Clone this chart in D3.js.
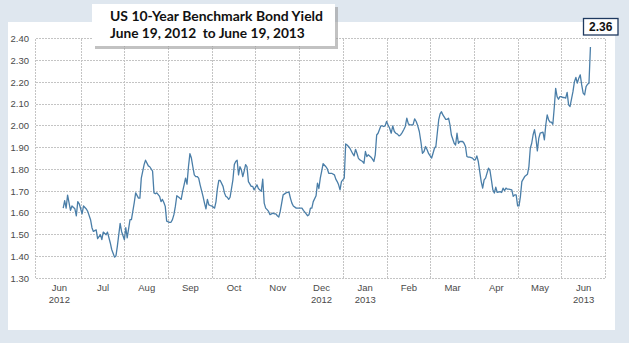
<!DOCTYPE html>
<html>
<head>
<meta charset="utf-8">
<script src="https://cdn.jsdelivr.net/npm/d3@7"></script>
<style>
  html, body { margin: 0; padding: 0; background: #dfe7ef; }
  svg { display: block; }
</style>
</head>
<body>
<svg id="chart" width="629" height="343"></svg>
<script>
// ---------- DATA ----------
const titleLines = ["US 10-Year Benchmark Bond Yield", "June 19, 2012  to June 19, 2013"];
const lastValueLabel = "2.36";
const monthLabels = ["Jun","Jul","Aug","Sep","Oct","Nov","Dec","Jan","Feb","Mar","Apr","May","Jun"];
const yearLabels  = ["2012","","","","","","2012","2013","","","","","2013"];
const yTicks = [1.30,1.40,1.50,1.60,1.70,1.80,1.90,2.00,2.10,2.20,2.30,2.40];

const obsDates = [
 "2012-06-19","2012-06-20","2012-06-21","2012-06-22","2012-06-24","2012-06-25","2012-06-27","2012-06-28","2012-06-29","2012-06-30",
 "2012-07-02","2012-07-03","2012-07-05","2012-07-06","2012-07-08","2012-07-09","2012-07-10","2012-07-12","2012-07-13","2012-07-15","2012-07-16","2012-07-17","2012-07-19","2012-07-20","2012-07-22","2012-07-23","2012-07-25","2012-07-26","2012-07-27","2012-07-29","2012-07-30",
 "2012-08-01","2012-08-02","2012-08-03","2012-08-05","2012-08-06","2012-08-08","2012-08-09","2012-08-11","2012-08-12","2012-08-13","2012-08-15","2012-08-16","2012-08-18","2012-08-19","2012-08-21","2012-08-22","2012-08-23","2012-08-24","2012-08-26","2012-08-27","2012-08-28","2012-08-29","2012-08-30","2012-08-31",
 "2012-09-02","2012-09-03","2012-09-04","2012-09-05","2012-09-06","2012-09-07","2012-09-09","2012-09-10","2012-09-11","2012-09-12","2012-09-13","2012-09-14","2012-09-15","2012-09-16","2012-09-17","2012-09-18","2012-09-19","2012-09-20","2012-09-21","2012-09-22","2012-09-23","2012-09-25","2012-09-26","2012-09-27","2012-09-28","2012-09-29","2012-09-30",
 "2012-10-01","2012-10-03","2012-10-04","2012-10-05","2012-10-06","2012-10-07","2012-10-09","2012-10-10","2012-10-11","2012-10-12","2012-10-13","2012-10-14","2012-10-16","2012-10-17","2012-10-18","2012-10-19","2012-10-20","2012-10-21","2012-10-22","2012-10-23","2012-10-24","2012-10-25","2012-10-26","2012-10-27","2012-10-29","2012-10-30","2012-10-31",
 "2012-11-02","2012-11-03","2012-11-05","2012-11-06","2012-11-07","2012-11-08","2012-11-09","2012-11-10","2012-11-11","2012-11-13","2012-11-14","2012-11-15","2012-11-16","2012-11-17","2012-11-18","2012-11-19","2012-11-20","2012-11-22","2012-11-23","2012-11-24","2012-11-25","2012-11-26","2012-11-27","2012-11-29","2012-11-30",
 "2012-12-01","2012-12-02","2012-12-03","2012-12-04","2012-12-06","2012-12-07","2012-12-08","2012-12-09","2012-12-10","2012-12-11","2012-12-13","2012-12-14","2012-12-15","2012-12-16","2012-12-17","2012-12-18","2012-12-20","2012-12-21","2012-12-22","2012-12-23","2012-12-24","2012-12-26","2012-12-27","2012-12-28","2012-12-29","2012-12-30","2012-12-31",
 "2013-01-02","2013-01-03","2013-01-04","2013-01-05","2013-01-06","2013-01-08","2013-01-09","2013-01-10","2013-01-11","2013-01-12","2013-01-13","2013-01-15","2013-01-16","2013-01-17","2013-01-18","2013-01-19","2013-01-21","2013-01-22","2013-01-23","2013-01-24","2013-01-25","2013-01-26","2013-01-28","2013-01-29","2013-01-30","2013-01-31",
 "2013-02-01","2013-02-02","2013-02-03","2013-02-04","2013-02-05","2013-02-06","2013-02-07","2013-02-08","2013-02-09","2013-02-10","2013-02-11","2013-02-12","2013-02-13","2013-02-14","2013-02-15","2013-02-16","2013-02-17","2013-02-18","2013-02-19","2013-02-20","2013-02-21","2013-02-22","2013-02-23","2013-02-24","2013-02-25","2013-02-26","2013-02-27","2013-02-28",
 "2013-03-02","2013-03-03","2013-03-04","2013-03-05","2013-03-06","2013-03-07","2013-03-08","2013-03-09","2013-03-10","2013-03-12","2013-03-13","2013-03-14","2013-03-15","2013-03-16","2013-03-18","2013-03-19","2013-03-20","2013-03-21","2013-03-22","2013-03-24","2013-03-25","2013-03-26","2013-03-27","2013-03-28","2013-03-29","2013-03-31",
 "2013-04-01","2013-04-02","2013-04-03","2013-04-04","2013-04-05","2013-04-06","2013-04-07","2013-04-08","2013-04-09","2013-04-11","2013-04-12","2013-04-13","2013-04-14","2013-04-15","2013-04-16","2013-04-17","2013-04-19","2013-04-20","2013-04-21","2013-04-22","2013-04-23","2013-04-24","2013-04-25","2013-04-27","2013-04-28","2013-04-29","2013-04-30",
 "2013-05-01","2013-05-02","2013-05-03","2013-05-04","2013-05-06","2013-05-08","2013-05-09","2013-05-10","2013-05-11","2013-05-12","2013-05-13","2013-05-14","2013-05-15","2013-05-16","2013-05-17","2013-05-19","2013-05-20","2013-05-21","2013-05-22","2013-05-23","2013-05-24","2013-05-25","2013-05-26","2013-05-27","2013-05-28","2013-05-29","2013-05-30","2013-05-31",
 "2013-06-01","2013-06-02","2013-06-03","2013-06-04","2013-06-05","2013-06-06","2013-06-07","2013-06-09","2013-06-10","2013-06-11","2013-06-12","2013-06-13","2013-06-14","2013-06-15","2013-06-16","2013-06-17","2013-06-18","2013-06-19","2013-06-20","2013-06-21"
];
const yields = [
 1.62,1.654,1.62,1.68,1.61,1.63,1.617,1.585,1.65,1.64,
 1.594,1.63,1.616,1.605,1.567,1.53,1.513,1.52,1.48,1.498,1.475,1.51,1.498,1.51,1.46,1.43,1.395,1.40,1.444,1.55,1.513,
 1.475,1.53,1.483,1.567,1.567,1.645,1.69,1.666,1.666,1.758,1.82,1.84,1.814,1.81,1.79,1.69,1.686,1.69,1.674,1.65,1.66,1.646,1.628,1.56,
 1.555,1.555,1.567,1.59,1.628,1.677,1.666,1.66,1.697,1.727,1.758,1.73,1.81,1.87,1.85,1.81,1.773,1.765,1.765,1.758,1.727,1.674,1.643,1.617,1.66,1.635,1.632,
 1.63,1.62,1.65,1.71,1.747,1.747,1.72,1.69,1.674,1.67,1.66,1.67,1.75,1.82,1.834,1.84,1.773,1.81,1.796,1.765,1.79,1.82,1.81,1.742,1.72,1.72,1.704,
 1.727,1.71,1.697,1.753,1.643,1.62,1.613,1.605,1.59,1.597,1.594,1.594,1.585,1.579,1.605,1.643,1.681,1.69,1.692,1.694,1.666,1.643,1.63,1.62,1.62,
 1.62,1.62,1.62,1.61,1.594,1.585,1.59,1.62,1.62,1.65,1.677,1.735,1.71,1.758,1.79,1.824,1.81,1.80,1.78,1.78,1.78,1.773,1.753,1.742,1.727,1.704,1.742,
 1.758,1.915,1.91,1.903,1.895,1.87,1.86,1.89,1.872,1.85,1.842,1.834,1.826,1.88,1.857,1.865,1.854,1.845,1.834,1.865,1.956,1.964,1.998,1.998,1.995,1.998,
 2.018,2.002,1.987,1.964,1.998,1.972,1.964,1.96,1.952,1.956,1.967,1.98,1.995,2.033,2.007,2.002,2.002,2.002,2.03,2.018,1.998,1.972,1.926,1.872,1.88,1.903,1.888,1.87,
 1.85,1.872,1.895,1.903,1.964,2.025,2.053,2.063,2.048,2.028,2.028,2.033,2.002,1.956,1.918,1.91,1.964,1.918,1.926,1.926,1.918,1.903,1.857,1.854,1.854,1.85,
 1.842,1.842,1.86,1.834,1.788,1.742,1.712,1.75,1.758,1.804,1.793,1.75,1.704,1.689,1.716,1.692,1.696,1.692,1.712,1.70,1.712,1.707,1.707,1.704,1.674,1.681,1.681,
 1.63,1.63,1.674,1.742,1.765,1.776,1.81,1.895,1.918,1.957,1.98,1.94,1.883,1.94,1.964,1.969,1.934,2.003,2.048,2.025,2.015,2.015,2.005,2.082,2.17,2.132,2.12,2.132,
 2.132,2.128,2.128,2.125,2.152,2.094,2.087,2.155,2.20,2.22,2.194,2.217,2.232,2.186,2.148,2.14,2.178,2.189,2.194,2.36
];

// ---------- SETUP ----------
const svg = d3.select("#chart");
const parse = d3.timeParse("%Y-%m-%d");
const series = obsDates.map((d, i) => ({ date: parse(d), value: yields[i] }));

const plotLeft = 37, plotRight = 605, plotTop = 38.3, plotBottom = 277.8;

// month boundaries: Jun 1 2012 .. Jul 1 2013 (equal-width month bands)
const monthStarts = d3.timeMonth.range(new Date(2012, 5, 1), new Date(2013, 6, 2));
const x = d3.scaleTime()
  .domain(monthStarts)
  .range(monthStarts.map((d, i) => plotLeft + i * (plotRight - plotLeft) / (monthStarts.length - 1)));
const y = d3.scaleLinear().domain([1.30, 2.40]).range([plotBottom, plotTop]);

// background panel
svg.append("rect").attr("x", 8).attr("y", 22).attr("width", 607).attr("height", 308).attr("fill", "#ffffff");

// grid
const grid = svg.append("g").attr("stroke", "#c4c4c4").attr("stroke-width", 1).attr("stroke-dasharray", "2,1").attr("shape-rendering", "crispEdges");
grid.selectAll("line.h").data(yTicks).join("line").attr("class", "h")
  .attr("x1", 35.5).attr("x2", plotRight + 0.5)
  .attr("y1", d => Math.round(y(d)) + 0.5).attr("y2", d => Math.round(y(d)) + 0.5);
grid.selectAll("line.v").data(monthStarts).join("line").attr("class", "v")
  .attr("x1", (d, i) => i === 0 ? 35.5 : Math.round(x(d)) + 0.5)
  .attr("x2", (d, i) => i === 0 ? 35.5 : Math.round(x(d)) + 0.5)
  .attr("y1", Math.round(plotTop) + 0.5).attr("y2", Math.round(plotBottom) + 0.5);

// y axis labels
const yAxis = d3.axisLeft(y).tickValues(yTicks).tickFormat(d3.format(".2f")).tickSize(0).tickPadding(0);
const gy = svg.append("g").attr("transform", "translate(29,0)").call(yAxis);
gy.select(".domain").remove();
gy.selectAll("text").attr("font-family", "'Liberation Sans', Arial, sans-serif").attr("font-size", "9.5px").attr("fill", "#4a4a4a").attr("dy", "0.35em");

// x axis labels (centered in monthly bands)
const midDates = monthStarts.slice(0, -1).map((d, i) => new Date((+d + +monthStarts[i + 1]) / 2));
const xAxis = d3.axisBottom(x).tickValues(midDates).tickSize(0).tickPadding(0).tickFormat((d, i) => monthLabels[i]);
const gx = svg.append("g").attr("transform", "translate(0,284)").call(xAxis);
gx.select(".domain").remove();
gx.selectAll("text")
  .attr("font-family", "'Liberation Sans', Arial, sans-serif").attr("font-size", "9.5px").attr("fill", "#4a4a4a")
  .attr("dy", "0.71em")
  .each(function(d, i) {
    const t = d3.select(this);
    if (yearLabels[i]) {
      t.append("tspan").attr("x", 0).attr("dy", "1.3em").text(yearLabels[i]);
    }
  });

// line
const line = d3.line().x(d => x(d.date)).y(d => y(d.value));
svg.append("path").datum(series).attr("d", line)
  .attr("fill", "none").attr("stroke", "#4a7ea8").attr("stroke-width", 1.3).attr("stroke-linejoin", "round");

// title box with shadow
svg.append("rect").attr("x", 95).attr("y", 7).attr("width", 243).attr("height", 42).attr("fill", "#9a9a9a").attr("opacity", 0.6);
svg.append("rect").attr("x", 92).attr("y", 4).attr("width", 243).attr("height", 42).attr("fill", "#ffffff");
const titleWidths = [213, 195];
svg.append("g").selectAll("text").data(titleLines).join("text")
  .attr("x", 110).attr("y", (d, i) => 21 + i * 17)
  .attr("font-family", "Lato, 'Open Sans', sans-serif").attr("font-weight", "bold").attr("font-size", "14px")
  .attr("fill", "#111").style("white-space", "pre")
  .text(d => d)
  .each(function(d, i) {
    const w = this.getComputedTextLength();
    if (w > 0) d3.select(this).attr("font-size", (14 * titleWidths[i] / w).toFixed(2) + "px");
  });

// last value box
svg.append("rect").attr("x", 583.5).attr("y", 18.5).attr("width", 34.5).attr("height", 16.5)
  .attr("fill", "#ffffff").attr("stroke", "#1f3a60").attr("stroke-width", 1.3);
svg.append("text").attr("x", 600.8).attr("y", 30.5).attr("text-anchor", "middle")
  .attr("font-family", "'Liberation Sans', Arial, sans-serif").attr("font-weight", "bold").attr("font-size", "12px")
  .attr("fill", "#111").text(lastValueLabel);
</script>
</body>
</html>
